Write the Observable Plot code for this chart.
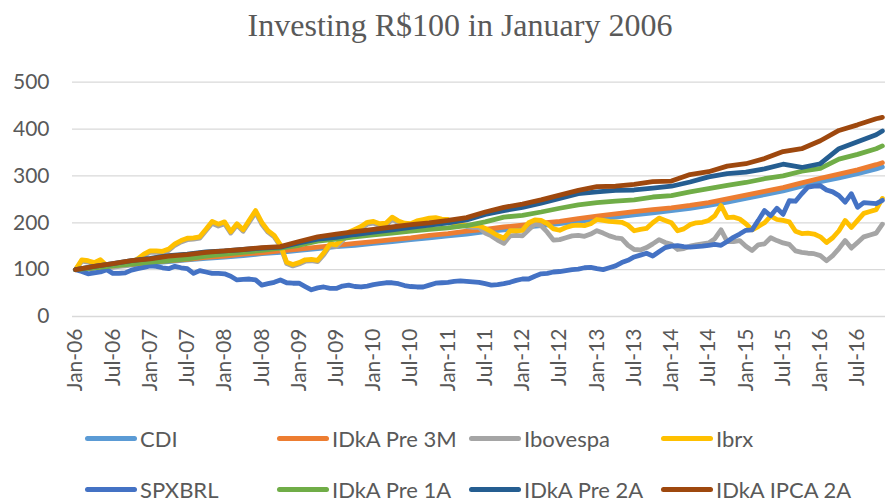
<!DOCTYPE html>
<html>
<head>
<meta charset="utf-8">
<script src="https://cdn.jsdelivr.net/npm/d3@7"></script>
<script src="https://cdn.jsdelivr.net/npm/@observablehq/plot@0.6"></script>
<style>
  html, body { margin: 0; padding: 0; background: #fff; }
  #wrap { position: relative; width: 887px; height: 501px; overflow: hidden; font-family: Lato, "Open Sans", sans-serif; }
  #title { position: absolute; left: 0; top: 7px; width: 920px; text-align: center; font-family: "Liberation Serif", "Times New Roman", serif; font-size: 32px; color: #595959; line-height: 36px; }
  .leg { position: absolute; display: flex; align-items: center; font-size: 22px; color: #595959; white-space: nowrap; }
  .sw { width: 52px; height: 5px; border-radius: 3px; margin-right: 3px; }
</style>
</head>
<body>
<div id="wrap">
  <div id="chart"></div>
  <div id="title">Investing R$100 in January 2006</div>
</div>
<script>
// Categories / ticks
const tickLabels = ["Jan-06","Jul-06","Jan-07","Jul-07","Jan-08","Jul-08","Jan-09","Jul-09","Jan-10","Jul-10","Jan-11","Jul-11","Jan-12","Jul-12","Jan-13","Jul-13","Jan-14","Jul-14","Jan-15","Jul-15","Jan-16","Jul-16"];
const yTicks = [0, 100, 200, 300, 400, 500];
const seriesNames = ["CDI","IDkA Pre 3M","Ibovespa","Ibrx","SPXBRL","IDkA Pre 1A","IDkA Pre 2A","IDkA IPCA 2A"];
const seriesColors = ["#5B9BD5","#ED7D31","#A5A5A5","#FFC000","#4472C4","#70AD47","#255E91","#9E480E"];

// month positions (0 = Jan-06 ... 130 = Nov-16)
const monthIdx = d3.range(131);
const quarterIdx = [...d3.range(0, 130, 3), 130];

// Quarterly readings for the smooth series
const cdi = [100,103,107,110,114,117,121,124,127,130,134,137,141,145,149,152,156,160,164,168,172,176,181,185,190,194,198,203,208,212,217,221,226,231,237,244,252,260,268,278,288,296,305,315,319];
const pre3m = [100,104,108,111,115,119,122,126,129,133,136,140,144,148,152,156,160,164,168,173,177,182,186,191,195,199,203,209,214,219,224,228,232,237,243,251,259,267,275,285,295,304,313,324,328];
const pre1a = [100,104,108,112,116,119,123,129,133,137,141,146,152,161,165,170,174,178,182,186,189,194,202,212,216,223,231,238,243,246,249,255,258,266,273,280,286,294,300,310,316,336,346,358,364];
const pre2a = [100,107,113,119,124,130,133,138,140,143,146,148,157,165,169,175,180,185,190,195,200,206,218,226,233,242,252,262,266,269,270,274,278,287,298,305,308,315,325,318,326,358,373,388,396];
const ipca2a = [100,107,113,119,123,129,132,137,140,143,147,149,160,170,176,181,186,191,196,200,205,211,223,233,240,249,259,269,277,278,282,288,289,303,309,321,326,337,352,358,375,397,409,422,425];

// Monthly readings for the volatile series
const ibovespa = [100,118,116,113,118,106,105,107,108,112,120,130,137,137,136,141,152,159,164,165,167,183,199,193,198,178,195,182,202,222,197,180,170,150,113,108,112,118,119,117,132,151,149,162,176,182,188,197,199,194,195,207,200,195,194,200,203,206,207,205,
  204,198,195,192,190,190,178,172,163,156,172,173,172,185,197,194,180,163,164,168,172,173,171,176,183,178,172,168,166,152,143,142,147,155,164,158,154,143,145,150,153,155,157,166,185,160,160,162,150,141,153,155,168,162,157,154,140,137,135,134,130,119,130,145,162,146,158,170,174,178,197];
const ibrx = [100,121,119,115,121,109,108,110,111,115,123,133,140,140,139,144,155,162,167,168,170,186,203,197,202,181,198,185,206,226,201,183,173,153,116,111,115,121,122,120,136,155,153,166,180,186,192,201,203,198,199,212,204,199,198,204,207,210,211,208,
  207,200,196,195,194,194,188,181,173,167,183,183,184,200,206,205,198,187,184,190,194,195,194,198,207,205,203,202,201,195,183,186,188,200,210,205,200,183,187,196,200,201,205,215,237,211,212,208,198,185,192,200,214,207,205,202,182,177,178,176,170,158,168,183,205,190,205,220,224,228,252];
const spxbrl = [100,96,91,93,95,100,92,92,93,99,102,105,108,107,104,102,107,104,102,92,98,95,92,92,91,86,78,79,80,78,67,70,73,78,72,71,71,64,57,61,63,60,60,65,67,64,63,65,68,70,72,72,70,66,64,63,63,67,71,72,73,
  75,76,75,74,73,70,67,68,70,73,77,80,80,86,91,92,95,96,98,100,101,104,105,102,100,104,108,115,120,127,131,135,129,138,147,150,151,149,148,149,150,152,154,152,160,169,176,184,185,205,226,215,231,218,247,246,262,276,278,279,270,266,258,244,262,233,243,242,241,248];

const seriesValues = [cdi, pre3m, ibovespa, ibrx, spxbrl, pre1a, pre2a, ipca2a];
const seriesIdx = [quarterIdx, quarterIdx, monthIdx, monthIdx, monthIdx, quarterIdx, quarterIdx, quarterIdx];

const tickPos = tickLabels.map((_, k) => k * 6);

const lineMarks = seriesNames.map((name, s) => {
  const rows = seriesValues[s].map((v, j) => ({m: seriesIdx[s][j], v}));
  return Plot.line(rows, {x: "m", y: "v", stroke: seriesColors[s], strokeWidth: 4.8, strokeLinejoin: "round", strokeLinecap: "round"});
});

const chart = Plot.plot({
  width: 887,
  height: 501,
  marginLeft: 72,
  marginRight: 2,
  marginTop: 81.7,
  marginBottom: 185,
  style: {fontFamily: "Lato, 'Open Sans', sans-serif", color: "#595959", background: "transparent"},
  x: {type: "linear", domain: [-0.5, 130.5]},
  y: {domain: [0, 500]},
  marks: [
    Plot.ruleY(yTicks, {stroke: "#D9D9D9", strokeWidth: 1.3}),
    Plot.axisY({ticks: yTicks, tickSize: 0, tickPadding: 23, fontSize: 21, label: null}),
    Plot.axisX({ticks: tickPos, tickFormat: d => tickLabels[d / 6], tickRotate: -90, tickSize: 0, tickPadding: 12, fontSize: 21, label: null}),
    ...lineMarks
  ]
});
document.getElementById("chart").appendChild(chart);

// Legend (HTML, below the plot area)
const legCols = [85, 277, 469, 661];
const legRows = [438, 489];
const wrap = document.getElementById("wrap");
seriesNames.forEach((name, s) => {
  const el = document.createElement("div");
  el.className = "leg";
  el.style.left = legCols[s % 4] + "px";
  el.style.top = (legRows[Math.floor(s / 4)] - 14) + "px";
  el.style.height = "28px";
  el.innerHTML = `<div class="sw" style="background:${seriesColors[s]}"></div><span>${name}</span>`;
  wrap.appendChild(el);
});
</script>
</body>
</html>
